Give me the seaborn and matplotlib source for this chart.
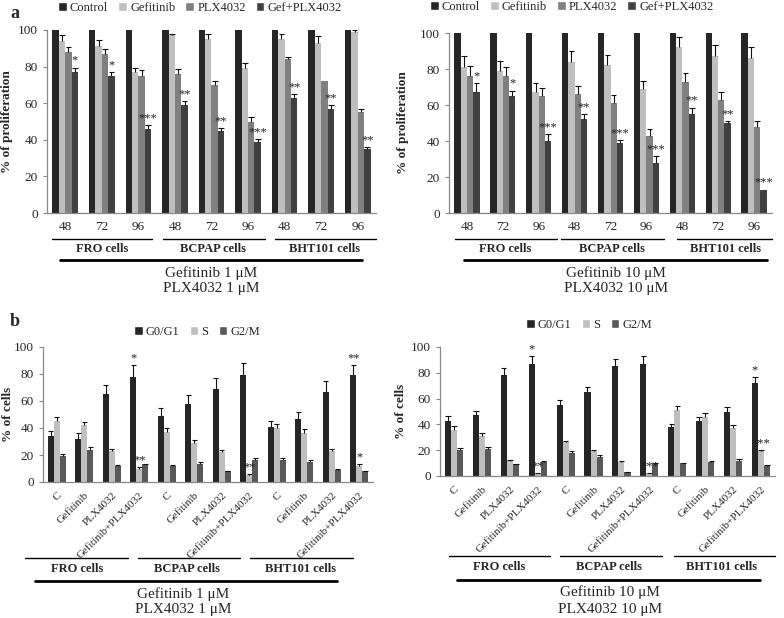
import numpy as np
import pandas as pd
import seaborn as sns
import matplotlib.pyplot as plt
import matplotlib.transforms as mtransforms
from matplotlib.patches import Patch

W, H = 784, 618

cells = ["FRO cells", "BCPAP cells", "BHT101 cells"]
hours = ["48", "72", "96"]
treatments = ["C", "Gefitinib", "PLX4032", "Gefitinib+PLX4032"]

# panel a: % of proliferation (Control, Gefitinib, PLX4032, Gef+PLX4032)
a_series = ["Control", "Gefitinib", "PLX4032", "Gef+PLX4032"]
a_colors = ["#262626", "#bfbfbf", "#808080", "#404040"]

a1_ctrl = [100, 100, 100, 100, 100, 100, 100, 100, 100]
a1_gef = [94, 91, 77, 97, 95, 79, 95, 93, 99]
a1_plx = [88, 87, 75, 76, 70, 50, 84, 72, 55]
a1_comb = [77, 75, 46, 59, 45, 39, 63, 57, 35]
a1_gef_err = [3, 3.5, 2.5, 1, 3, 3, 3, 3.5, 1]
a1_plx_err = [2.5, 2.5, 3, 2.5, 2, 2.5, 1, 0, 2]
a1_comb_err = [2.5, 2, 2, 2, 1.5, 1.5, 2, 2, 1]
a1_stars = ["*", "*", "***", "**", "**", "***", "**", "**", "**"]

a10_ctrl = [100, 100, 100, 100, 100, 100, 100, 100, 100]
a10_gef = [81, 79, 67, 84, 82, 69, 92, 87, 86]
a10_plx = [76, 76, 65, 66, 61, 43, 73, 63, 48]
a10_comb = [67, 65, 40, 52, 39, 28, 55, 50, 13]
a10_gef_err = [6, 5.5, 5, 6, 6, 4.5, 6, 6.5, 6]
a10_plx_err = [5.5, 5, 4.5, 4.5, 4.5, 3.5, 5, 4.5, 3]
a10_comb_err = [5, 3, 4, 3, 1.5, 3.5, 3.5, 1, 0]
a10_stars = ["*", "*", "***", "**", "***", "***", "**", "**", "***"]

# panel b: % of cells per cell-cycle phase
b_series = ["G0/G1", "S", "G2/M"]
b_colors = ["#262626", "#bfbfbf", "#595959"]

b1_g1 = [34, 32, 65, 78, 49, 58, 69, 79, 41, 47, 67, 79]
b1_s = [45, 42, 23, 10, 37, 29, 22, 5, 40, 36, 23, 12]
b1_g2 = [19, 24, 12, 13, 12, 13, 8, 16, 16, 15, 9, 8]
b1_g1_err = [4, 4, 7, 9, 6, 6.5, 8, 9, 4.5, 5, 8, 8]
b1_s_err = [3, 2.5, 1.5, 1, 3, 2, 1.5, 1, 3, 3, 1.5, 1]
b1_g2_err = [1.5, 2, 0.5, 0.5, 0.5, 1.5, 0.5, 1.5, 1.5, 1.5, 0.5, 0.5]
b1_g1_stars = ["", "", "", "*", "", "", "", "", "", "", "", "**"]
b1_s_stars = ["", "", "", "**", "", "", "", "**", "", "", "", "*"]

b10_g1 = [43, 47, 78, 87, 55, 65, 85, 87, 38, 43, 50, 72]
b10_s = [36, 31, 12, 2, 26, 19, 11, 2, 51, 46, 37, 19]
b10_g2 = [20, 21, 9, 11, 18, 15, 3, 10, 10, 11, 12, 8]
b10_g1_err = [3.5, 3.5, 6, 6, 4, 4, 6, 6, 2.5, 2.5, 3.5, 4.5]
b10_s_err = [2.5, 2.5, 0.5, 0.3, 1.5, 1.5, 0.5, 0.3, 3, 3, 2.5, 1.5]
b10_g2_err = [1.5, 1.5, 0.5, 0.5, 1.5, 1.5, 0.3, 0.3, 0.3, 0.3, 1.5, 0.5]
b10_g1_stars = ["", "", "", "*", "", "", "", "", "", "", "", "*"]
b10_s_stars = ["", "", "", "**", "", "", "", "***", "", "", "", "***"]

sns.set_style("white")
plt.rcParams["font.family"] = ["Liberation Serif", "DejaVu Serif"]

fig = plt.figure(figsize=(W / 100, H / 100), dpi=100)


def px_rect(l, t, r, b):
    return [l / W, 1 - b / H, (r - l) / W, (b - t) / H]


def draw_panel(rect, ticklabels, series, colors, values, errors, stars,
               width, ylabel, ylabel_px, leg_xy, rotate):
    ax = fig.add_axes(px_rect(*rect))
    n = len(ticklabels)
    keys = [f"k{i}" for i in range(n)]
    df = pd.DataFrame({
        "key": np.tile(keys, len(series)),
        "series": np.repeat(series, n),
        "value": np.concatenate(values),
    })
    sns.barplot(data=df, x="key", y="value", hue="series", order=keys,
                hue_order=series, palette=colors, width=width, saturation=1,
                errorbar=None, legend=False, ax=ax, linewidth=0)

    # error bars (upper only) and significance stars
    for cont, err, st in zip(ax.containers, errors, stars):
        for bar, e, s in zip(cont, err, st):
            xc = bar.get_x() + bar.get_width() / 2
            top = bar.get_height()
            if e > 0:
                ax.vlines(xc, top, top + e, color="#111111", lw=0.8, clip_on=False)
                ax.hlines(top + e, xc - bar.get_width() * 0.45,
                          xc + bar.get_width() * 0.45, color="#111111", lw=0.8,
                          clip_on=False)
            if s:
                ax.text(xc, top + e + 0.5, s, ha="center", va="bottom",
                        fontsize=9, color="#222222", clip_on=False)

    ax.set_xlim(-0.5, n - 0.5)
    ax.set_ylim(0, 100)
    ax.set_yticks(range(0, 101, 20))
    ax.set_xticks(range(n))
    ax.set_xticks(np.arange(n + 1) - 0.5, minor=True)
    ax.tick_params(axis="x", which="major", length=0, pad=6)
    ax.tick_params(axis="x", which="minor", length=4, direction="out",
                   color="#888888")
    ax.tick_params(axis="y", length=3, direction="out", color="#888888",
                   labelsize=9.5, left=True)
    if rotate:
        ax.set_xticklabels(ticklabels, rotation=45, ha="right",
                           rotation_mode="anchor", fontsize=8)
    else:
        ax.set_xticklabels(ticklabels, fontsize=9.5)
    ax.set_xlabel("")
    ax.set_ylabel(ylabel, fontsize=9.5, fontweight="bold")
    ax.yaxis.set_label_coords((ylabel_px - rect[0]) / (rect[2] - rect[0]), 0.5)
    for sp in ["top", "right"]:
        ax.spines[sp].set_visible(False)
    for sp in ["left", "bottom"]:
        ax.spines[sp].set_color("#888888")
        ax.spines[sp].set_linewidth(0.9)

    handles = [Patch(facecolor=c, label=s) for c, s in zip(colors, series)]
    ax.legend(handles=handles, loc="center", bbox_to_anchor=leg_xy,
              ncol=len(series), frameon=False, fontsize=9, handlelength=0.7,
              handleheight=0.7, handletextpad=0.25, columnspacing=0.8)
    return ax


def decorate(ax, spans, label_x, y_line, y_lab, big_span, y_big, dose_x,
             dose_y, dose_lines):
    tr = mtransforms.blended_transform_factory(ax.transData, fig.transFigure)
    for (x0, x1), lx, name in zip(spans, label_x, cells):
        ax.plot([x0, x1], [1 - y_line / H] * 2, color="black", lw=1.0,
                transform=tr, clip_on=False)
        ax.text(lx, 1 - y_lab / H, name, transform=tr, ha="center",
                va="center", fontsize=9, fontweight="bold")
    ax.plot(big_span, [1 - y_big / H] * 2, color="black", lw=2.0,
            transform=tr, clip_on=False)
    for txt, yy in zip(dose_lines, dose_y):
        ax.text(dose_x, 1 - yy / H, txt, transform=tr, ha="center",
                va="center", fontsize=11)


a_ticks = hours * 3
b_ticks = treatments * 3

ax1 = draw_panel((47, 30, 376, 213), a_ticks, a_series, a_colors,
                 [a1_ctrl, a1_gef, a1_plx, a1_comb],
                 [[0] * 9, a1_gef_err, a1_plx_err, a1_comb_err],
                 [[""] * 9, [""] * 9, [""] * 9, a1_stars],
                 0.7, "% of proliferation", 13, (0.465, 1.12), False)
decorate(ax1, [(-0.35, 2.37), (2.67, 5.46), (5.73, 8.5)], [1.0, 4.05, 7.1],
         239, 249, [-0.14, 8.13], 260, 4.0, [273, 289],
         ["Gefitinib 1 \u03bcM", "PLX4032 1 \u03bcM"])

ax2 = draw_panel((449, 33, 772, 213), a_ticks, a_series, a_colors,
                 [a10_ctrl, a10_gef, a10_plx, a10_comb],
                 [[0] * 9, a10_gef_err, a10_plx_err, a10_comb_err],
                 [[""] * 9, [""] * 9, [""] * 9, a10_stars],
                 0.7, "% of proliferation", 409, (0.38, 1.145), False)
decorate(ax2, [(-0.33, 2.5), (2.62, 5.5), (5.85, 8.5)], [1.05, 4.05, 7.2],
         239, 249, [-0.08, 8.36], 260, 4.15, [273, 289],
         ["Gefitinib 10 \u03bcM", "PLX4032 10 \u03bcM"])

ax3 = draw_panel((43, 347, 373, 482), b_ticks, b_series, b_colors,
                 [b1_g1, b1_s, b1_g2],
                 [b1_g1_err, b1_s_err, b1_g2_err],
                 [b1_g1_stars, b1_s_stars, [""] * 12],
                 0.65, "% of cells", 14, (0.467, 1.11), True)
decorate(ax3, [(-1.15, 2.59), (2.95, 6.66), (7.03, 10.77)], [0.74, 4.74, 8.85],
         558, 569, [-0.79, 10.2], 581, 4.6, [594, 610],
         ["Gefitinib 1 \u03bcM", "PLX4032 1 \u03bcM"])

ax4 = draw_panel((440, 347, 775, 476), b_ticks, b_series, b_colors,
                 [b10_g1, b10_s, b10_g2],
                 [b10_g1_err, b10_s_err, b10_g2_err],
                 [b10_g1_stars, b10_s_stars, [""] * 12],
                 0.65, "% of cells", 407, (0.445, 1.17), True)
decorate(ax4, [(-0.18, 3.44), (3.8, 7.46), (7.89, 11.5)], [1.61, 5.56, 9.6],
         556, 567, [0.11, 10.97], 580, 5.6, [592, 609],
         ["Gefitinib 10 \u03bcM", "PLX4032 10 \u03bcM"])

fig.text(10 / W, 1 - 14 / H, "a", fontsize=13, fontweight="bold", va="center")
fig.text(10 / W, 1 - 322 / H, "b", fontsize=13, fontweight="bold", va="center")

fig.savefig("out.png", dpi=100)
